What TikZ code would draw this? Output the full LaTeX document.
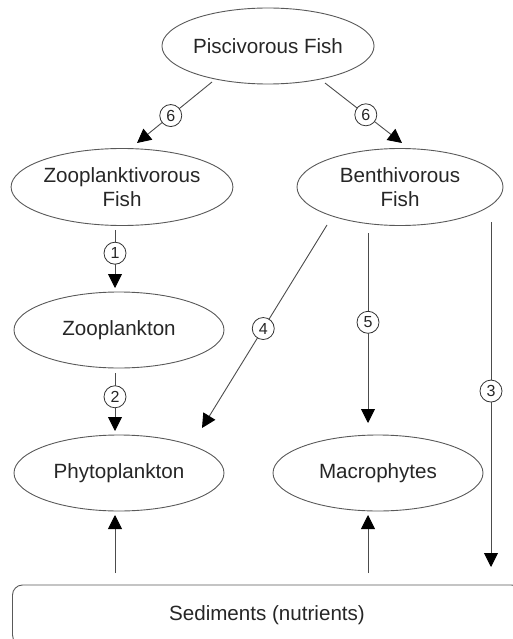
\documentclass[tikz,border=0pt]{standalone}
\usepackage{fontspec}
\setmainfont{Liberation Sans}
\usetikzlibrary{shapes.geometric,arrows.meta}
\begin{document}
\begin{tikzpicture}[x=1pt,y=-1pt,
  every node/.style={font=\fontsize{20.6}{24}\selectfont, text=black!85},
  oval/.style={ellipse, draw=black!65, line width=0.9pt, inner sep=0pt, align=center},
  conn/.style={draw=black!70, line width=0.9pt, -{Triangle[length=14pt,width=14pt,black]}},
  num/.style={circle, draw=black!80, fill=white, line width=0.8pt, inner sep=0pt,
    minimum size=22pt, font=\fontsize{16}{16}\selectfont}]
\useasboundingbox (0,0) rectangle (513,639);
\node[oval, minimum width=210pt, minimum height=76pt] (pisc) at (268,46) {Piscivorous Fish};
\node[oval, minimum width=213pt, minimum height=77pt] (zfish) at (122,187) {Zooplanktivorous\\Fish};
\node[oval, minimum width=206pt, minimum height=77pt] (bfish) at (400,187) {Benthivorous\\Fish};
\node[oval, minimum width=210pt, minimum height=76pt] (zoo) at (119,330) {Zooplankton};
\node[oval, minimum width=210pt, minimum height=76pt] (phyto) at (119,473) {Phytoplankton};
\node[oval, minimum width=210pt, minimum height=76pt] (macro) at (378,473) {Macrophytes};
\node[draw=black!65, line width=0.9pt, rounded corners=10pt, minimum width=509pt,
  minimum height=60pt, inner sep=0pt] (sed) at (267,615) {Sediments (nutrients)};
% endpoints
\coordinate (p1) at (212,82);  \coordinate (p2) at (137,143);
\coordinate (p3) at (325,83);  \coordinate (p4) at (402,143);
\coordinate (z1) at (115,230); \coordinate (z2) at (115,288);
\coordinate (z3) at (115,373); \coordinate (z4) at (115,431);
\coordinate (b1) at (327,225); \coordinate (b2) at (202,428);
\coordinate (b3) at (368,233); \coordinate (b4) at (368,423);
\coordinate (b5) at (491,222); \coordinate (b6) at (491,567);
\coordinate (s1) at (115,573); \coordinate (s2) at (115,515);
\coordinate (s3) at (368,573); \coordinate (s4) at (368,515);
\draw[conn] (p1) -- node[num, pos=0.55] {6} (p2);
\draw[conn] (p3) -- node[num, pos=0.53] {6} (p4);
\draw[conn] (z1) -- node[num, pos=0.4] {1} (z2);
\draw[conn] (z3) -- node[num, pos=0.41] {2} (z4);
\draw[conn] (b1) -- node[num, pos=0.51] {4} (b2);
\draw[conn] (b3) -- node[num, pos=0.47] {5} (b4);
\draw[conn] (b5) -- node[num, pos=0.49] {3} (b6);
\draw[conn] (s1) -- (s2);
\draw[conn] (s3) -- (s4);
\end{tikzpicture}
\end{document}
